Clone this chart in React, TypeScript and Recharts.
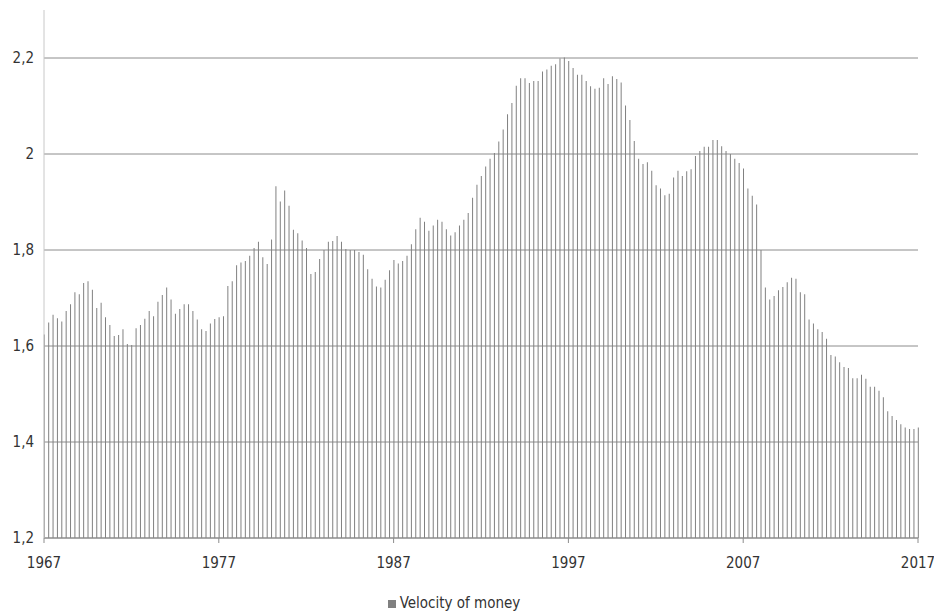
import { BarChart, Bar, XAxis, YAxis, CartesianGrid, Legend } from "recharts";

// quarterly velocity of money (1967Q1 .. 2017Q1)
const q1967to1976 = [
  1.624, 1.649, 1.665, 1.658, 1.651, 1.673, 1.687, 1.712, 1.708, 1.731,
  1.735, 1.717, 1.679, 1.69, 1.66, 1.644, 1.621, 1.623, 1.635, 1.604,
  1.602, 1.637, 1.644, 1.657, 1.673, 1.662, 1.692, 1.706, 1.722, 1.697,
  1.667, 1.677, 1.687, 1.687, 1.673, 1.655, 1.635, 1.631, 1.647, 1.656,
];
const q1977to1986 = [
  1.66, 1.662, 1.725, 1.735, 1.768, 1.774, 1.777, 1.788, 1.804, 1.817,
  1.785, 1.771, 1.822, 1.933, 1.901, 1.924, 1.892, 1.842, 1.835, 1.82,
  1.804, 1.75, 1.754, 1.781, 1.8, 1.817, 1.819, 1.829, 1.817, 1.802,
  1.8, 1.8, 1.796, 1.79, 1.76, 1.74, 1.724, 1.722, 1.738, 1.758,
];
const q1987to1996 = [
  1.779, 1.772, 1.777, 1.788, 1.812, 1.843, 1.867, 1.859, 1.84, 1.851,
  1.863, 1.859, 1.843, 1.83, 1.837, 1.851, 1.863, 1.877, 1.909, 1.936,
  1.954, 1.974, 1.99, 2.002, 2.026, 2.051, 2.083, 2.106, 2.142, 2.158,
  2.158, 2.148, 2.152, 2.152, 2.172, 2.176, 2.184, 2.187, 2.199, 2.201,
];
const q1997to2006 = [
  2.194, 2.179, 2.165, 2.165, 2.152, 2.141, 2.136, 2.138, 2.158, 2.146,
  2.162, 2.156, 2.149, 2.101, 2.071, 2.027, 1.99, 1.979, 1.983, 1.965,
  1.935, 1.928, 1.914, 1.917, 1.951, 1.965, 1.954, 1.964, 1.968, 1.996,
  2.006, 2.015, 2.015, 2.029, 2.029, 2.016, 2.006, 2.0, 1.99, 1.981,
];
const q2007to2017 = [
  1.97, 1.928, 1.913, 1.895, 1.8, 1.722, 1.697, 1.704, 1.716, 1.723,
  1.733, 1.742, 1.74, 1.712, 1.708, 1.655, 1.647, 1.635, 1.629, 1.615,
  1.581, 1.578, 1.566, 1.556, 1.554, 1.533, 1.533, 1.54, 1.532, 1.515,
  1.515, 1.507, 1.493, 1.464, 1.454, 1.446, 1.437, 1.43, 1.427, 1.427,
  1.43,
];

const yearLabels = ["1967", "1977", "1987", "1997", "2007", "2017"];
const yTicks = [1.2, 1.4, 1.6, 1.8, 2, 2.2];
const yDomain = [1.2, 2.3];

const velocity = [...q1967to1976, ...q1977to1986, ...q1987to1996, ...q1997to2006, ...q2007to2017];
const data = velocity.map((v, i) => ({ q: i, v }));
const xTicks = yearLabels.map((_, i) => i * 40);

const font = "'DejaVu Sans Condensed', 'Liberation Sans', sans-serif";

// gridlines only at the labelled ticks (no line at the 2,3 top of the axis)
const gridRows = ({ offset }: any) =>
  yTicks.map((t) => offset.top + ((yDomain[1] - t) / (yDomain[1] - yDomain[0])) * offset.height);

export default function App() {
  return (
    <div style={{ position: "absolute", left: 0, top: 0 }}>
      <BarChart width={934} height={613} data={data} margin={{ top: 10, right: 16, bottom: 0, left: 0 }}>
        <CartesianGrid vertical={false} stroke="#8c8c8c" horizontalCoordinatesGenerator={gridRows} />
        <XAxis
          dataKey="q"
          type="number"
          domain={[0, 200]}
          ticks={xTicks}
          tickFormatter={(v: number) => yearLabels[v / 40]}
          height={55}
          stroke="#8c8c8c"
          tickSize={5}
          tickMargin={14}
          tick={{ fill: "#333", fontSize: 15, fontFamily: font }}
        />
        <YAxis
          domain={yDomain}
          ticks={yTicks}
          width={44}
          stroke="#c8c8c8"
          tickLine={false}
          tickSize={8}
          tickMargin={2}
          tickFormatter={(v: number) => String(Math.round(v * 10) / 10).replace(".", ",")}
          tick={{ fill: "#333", fontSize: 15, fontFamily: font }}
        />
        <Legend
          verticalAlign="bottom"
          iconType="square"
          iconSize={8}
          wrapperStyle={{ height: 20, lineHeight: "20px", fontFamily: font, fontSize: 15 }}
          formatter={(value: string) => <span style={{ color: "#333" }}>{value}</span>}
        />
        <Bar dataKey="v" name="Velocity of money" fill="#808080" barSize={1} isAnimationActive={false} />
      </BarChart>
    </div>
  );
}
